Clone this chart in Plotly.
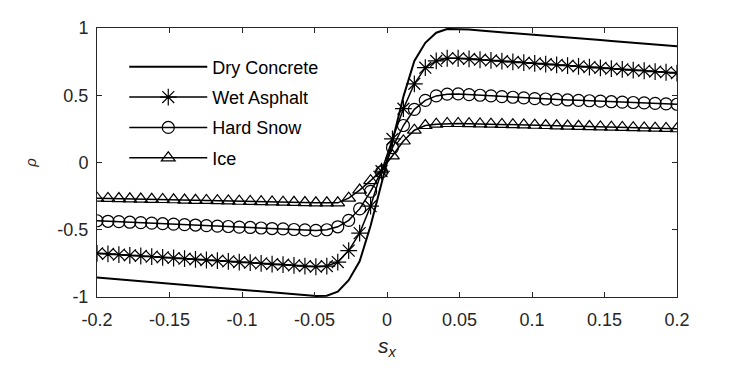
import plotly.graph_objects as go

# === Datos ===
sx = [-0.2, -0.19245, -0.18491, -0.17736, -0.16981, -0.16226, -0.15472, -0.14717, -0.13962,
      -0.13208, -0.12453, -0.11698, -0.10943, -0.10189, -0.09434, -0.08679, -0.07925, -0.0717,
      -0.06415, -0.0566, -0.04906, -0.04151, -0.03396, -0.02642, -0.01887, -0.01132, -0.00377,
      0.00377, 0.01132, 0.01887, 0.02642, 0.03396, 0.04151, 0.04906, 0.0566, 0.06415, 0.0717,
      0.07925, 0.08679, 0.09434, 0.10189, 0.10943, 0.11698, 0.12453, 0.13208, 0.13962, 0.14717,
      0.15472, 0.16226, 0.16981, 0.17736, 0.18491, 0.19245, 0.2]

dry_concrete = [-0.855, -0.862, -0.869, -0.875, -0.882, -0.889, -0.896, -0.902, -0.909,
                -0.916, -0.923, -0.929, -0.936, -0.943, -0.950, -0.956, -0.963, -0.970,
                -0.977, -0.984, -0.992, -0.990, -0.960, -0.875, -0.735, -0.470, -0.160,
                0.160, 0.490, 0.755, 0.890, 0.965, 0.993, 0.993, 0.988, 0.981, 0.975,
                0.968, 0.962, 0.955, 0.949, 0.942, 0.936, 0.929, 0.923, 0.916, 0.910,
                0.903, 0.897, 0.890, 0.884, 0.877, 0.871, 0.864]

wet_asphalt = [-0.675, -0.680, -0.685, -0.690, -0.695, -0.700, -0.705, -0.710, -0.715,
               -0.720, -0.725, -0.730, -0.735, -0.740, -0.745, -0.750, -0.755, -0.760,
               -0.765, -0.770, -0.775, -0.770, -0.740, -0.655, -0.525, -0.325, -0.065,
               0.175, 0.400, 0.585, 0.705, 0.755, 0.775, 0.775, 0.770, 0.764, 0.759,
               0.753, 0.748, 0.742, 0.737, 0.731, 0.726, 0.720, 0.715, 0.709, 0.704,
               0.698, 0.693, 0.687, 0.682, 0.676, 0.671, 0.665]

hard_snow = [-0.433, -0.437, -0.440, -0.444, -0.447, -0.451, -0.455, -0.458, -0.462,
             -0.465, -0.469, -0.473, -0.476, -0.480, -0.483, -0.487, -0.491, -0.494,
             -0.498, -0.501, -0.505, -0.500, -0.478, -0.430, -0.345, -0.215, -0.070,
             0.110, 0.275, 0.395, 0.462, 0.495, 0.508, 0.510, 0.505, 0.500, 0.495,
             0.490, 0.485, 0.480, 0.475, 0.472, 0.469, 0.465, 0.462, 0.459, 0.456,
             0.452, 0.449, 0.446, 0.443, 0.440, 0.436, 0.433]

ice = [-0.265, -0.267, -0.268, -0.270, -0.272, -0.274, -0.275, -0.277, -0.279,
       -0.281, -0.282, -0.284, -0.286, -0.288, -0.289, -0.291, -0.293, -0.295,
       -0.296, -0.298, -0.300, -0.300, -0.300, -0.265, -0.205, -0.135, -0.055,
       0.050, 0.160, 0.240, 0.275, 0.285, 0.290, 0.290, 0.289, 0.287, 0.285,
       0.283, 0.281, 0.279, 0.277, 0.275, 0.273, 0.271, 0.269, 0.267, 0.265,
       0.263, 0.261, 0.259, 0.257, 0.255, 0.253, 0.251]

x_ticks = [-0.2, -0.15, -0.1, -0.05, 0, 0.05, 0.1, 0.15, 0.2]
x_ticktext = ['-0.2', '-0.15', '-0.1', '-0.05', '0', '0.05', '0.1', '0.15', '0.2']
y_ticks = [-1, -0.5, 0, 0.5, 1]
y_ticktext = ['-1', '-0.5', '0', '0.5', '1']

FONT = 'Liberation Sans'
GRIS = '#262626'

fig = go.Figure()

fig.add_trace(go.Scatter(x=sx, y=dry_concrete, name='Dry Concrete', mode='lines',
                         legendgroup='g1', line=dict(color='black', width=2)))

series = [('Wet Asphalt', wet_asphalt, 'asterisk-open', 14),
          ('Hard Snow', hard_snow, 'circle-open', 12),
          ('Ice', ice, 'triangle-up-open', 12)]
for i, (nombre, valores, simbolo, tam) in enumerate(series):
    fig.add_trace(go.Scatter(x=sx, y=valores, name=nombre, mode='lines+markers',
                             legendgroup=f'g{i + 2}',
                             line=dict(color='black', width=1.5),
                             marker=dict(symbol=simbolo, size=tam, color='black',
                                         line=dict(color='black', width=1.2))))

ejes = dict(showline=True, linecolor=GRIS, linewidth=1, mirror='ticks',
            ticks='inside', ticklen=5, tickcolor=GRIS, showgrid=False, zeroline=False,
            automargin=False, tickfont=dict(family=FONT, size=18, color=GRIS))

# la página añade 8 px de margen al cuerpo: se compensa en los márgenes
fig.update_layout(
    width=747, height=375,
    margin=dict(l=89, r=78, t=20, b=86),
    plot_bgcolor='white', paper_bgcolor='white',
    font=dict(family=FONT, color=GRIS),
    xaxis=dict(range=[-0.2, 0.2], tickvals=x_ticks, ticktext=x_ticktext,
               ticklabelstandoff=6,
               title=dict(text='<i>s<sub>x</sub></i>', font=dict(family=FONT, size=21, color=GRIS),
                          standoff=9), **ejes),
    yaxis=dict(range=[-1, 1], tickvals=y_ticks, ticktext=y_ticktext,
               ticklabelstandoff=4,
               title=dict(text='<i>ρ</i>', font=dict(family=FONT, size=15, color=GRIS),
                          standoff=17), **ejes),
    legend=dict(x=0.047, y=0.924, xanchor='left', yanchor='top',
                bgcolor='rgba(255,255,255,0)', borderwidth=0,
                font=dict(family=FONT, size=18, color='black'),
                tracegroupgap=4, itemwidth=78),
    showlegend=True,
)

fig.write_html("out.html")
